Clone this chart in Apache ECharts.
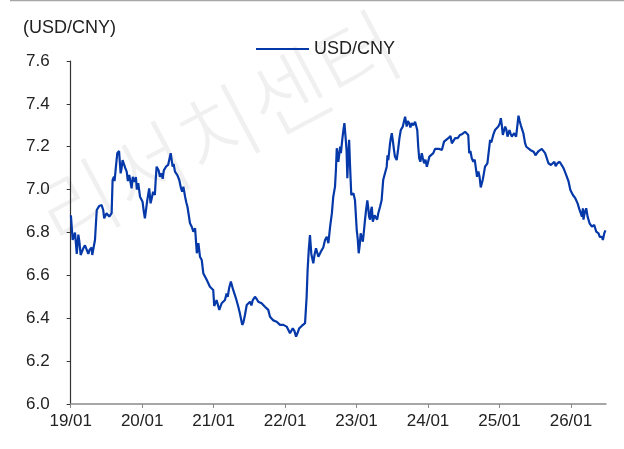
<!DOCTYPE html>
<html>
<head>
<meta charset="utf-8">
<script src="https://cdn.jsdelivr.net/npm/echarts@6/dist/echarts.min.js"></script>
<style>
html,body{margin:0;padding:0;background:#fff;}
#chart{width:624px;height:449px;}
</style>
</head>
<body>
<div id="chart"></div>
<script>
// ---- data ----
const unitLabel = '(USD/CNY)';
const seriesName = 'USD/CNY';
const watermark = '리서치센터';
const yTicks = [6.0, 6.2, 6.4, 6.6, 6.8, 7.0, 7.2, 7.4, 7.6];
const xTickYears = [2019, 2020, 2021, 2022, 2023, 2024, 2025, 2026];
const xTickLabels = ['19/01', '20/01', '21/01', '22/01', '23/01', '24/01', '25/01', '26/01'];
const xEnd = '2026-06-29';

const dates = [
'2019-01-02','2019-01-11','2019-01-23','2019-02-01','2019-02-09','2019-02-21','2019-03-06','2019-03-24','2019-04-01','2019-04-18',
'2019-04-21','2019-05-05','2019-05-14','2019-05-27','2019-06-08','2019-06-16','2019-06-21','2019-07-03','2019-07-17','2019-07-29',
'2019-08-03','2019-08-10','2019-08-20','2019-08-27','2019-09-05','2019-09-13','2019-09-23','2019-10-01','2019-10-14','2019-10-27',
'2019-11-08','2019-11-20','2019-11-30','2019-12-12','2019-12-21','2020-01-03','2020-01-15','2020-01-27','2020-02-06','2020-02-13',
'2020-02-26','2020-03-06','2020-03-15','2020-03-25','2020-04-01','2020-04-10','2020-04-21','2020-05-02','2020-05-13','2020-05-26',
'2020-06-05','2020-06-17','2020-06-29','2020-07-09','2020-07-18','2020-07-30','2020-08-08','2020-08-20','2020-09-02','2020-09-11',
'2020-09-19','2020-09-28','2020-10-07','2020-10-15','2020-10-23','2020-11-01','2020-11-09','2020-11-27','2020-12-13','2020-12-30',
'2021-01-04','2021-01-16','2021-01-30','2021-02-11','2021-02-28','2021-03-08','2021-03-21','2021-03-30','2021-04-11','2021-04-25',
'2021-05-07','2021-05-15','2021-05-27','2021-06-10','2021-06-19','2021-07-06','2021-07-20','2021-07-31','2021-08-17','2021-09-03',
'2021-09-20','2021-10-07','2021-10-16','2021-11-02','2021-11-19','2021-12-06','2021-12-23','2022-01-09','2022-01-26','2022-02-09',
'2022-02-26','2022-03-14','2022-03-27','2022-04-13','2022-04-21','2022-04-26','2022-05-08','2022-05-25','2022-06-08','2022-06-20',
'2022-07-07','2022-07-24','2022-08-10','2022-08-19','2022-08-28','2022-09-04','2022-09-13','2022-09-22','2022-09-30','2022-10-09',
'2022-10-18','2022-10-26','2022-10-31','2022-11-07','2022-11-15','2022-11-24','2022-11-29','2022-12-05','2022-12-16','2022-12-24',
'2023-01-02','2023-01-12','2023-01-22','2023-02-02','2023-02-13','2023-02-25','2023-03-06','2023-03-16','2023-03-25','2023-04-10',
'2023-04-22','2023-05-01','2023-05-09','2023-05-17','2023-06-04','2023-06-12','2023-06-21','2023-06-30','2023-07-07','2023-07-16',
'2023-07-25','2023-08-02','2023-08-15','2023-08-25','2023-09-06','2023-09-14','2023-09-27','2023-10-10','2023-10-27','2023-11-07',
'2023-11-17','2023-11-30','2023-12-12','2023-12-26','2024-01-08','2024-01-28','2024-02-15','2024-03-12','2024-03-23','2024-04-14',
'2024-05-02','2024-05-19','2024-06-13','2024-07-09','2024-07-25','2024-07-30','2024-08-12','2024-08-20','2024-09-02','2024-09-15',
'2024-09-27','2024-10-07','2024-10-19','2024-10-31','2024-11-08','2024-11-14','2024-11-30','2024-12-09','2024-12-26','2025-01-08',
'2025-01-18','2025-01-30','2025-02-11','2025-02-21','2025-03-05','2025-03-17','2025-03-27','2025-04-08','2025-04-20','2025-05-03',
'2025-05-12','2025-05-24','2025-06-07','2025-06-24','2025-07-11','2025-07-28','2025-08-14','2025-08-28','2025-09-08','2025-09-21',
'2025-10-08','2025-10-24','2025-11-11','2025-11-24','2025-12-08','2025-12-20','2025-12-29','2026-01-11','2026-01-23','2026-02-04',
'2026-02-14','2026-02-26','2026-03-03','2026-03-10','2026-03-20','2026-03-27','2026-04-06','2026-04-18','2026-04-30','2026-05-10',
'2026-05-22','2026-06-03','2026-06-13','2026-06-20','2026-06-26'
];

const usdcny = [
6.88,6.765,6.80,6.70,6.79,6.695,6.726,6.734,6.70,6.73,
6.695,6.765,6.905,6.924,6.928,6.905,6.866,6.89,6.874,6.89,
7.045,7.06,7.107,7.17,7.18,7.076,7.138,7.146,7.084,7.068,
7.006,7.037,7.058,7.03,6.967,6.944,6.866,6.95,7.006,6.936,
6.99,6.975,7.107,7.09,7.06,7.076,7.09,7.107,7.115,7.17,
7.107,7.084,7.068,7.045,7.006,7.014,6.967,6.92,6.843,6.827,
6.804,6.82,6.703,6.75,6.687,6.672,6.61,6.578,6.547,6.532,
6.457,6.485,6.439,6.47,6.485,6.516,6.54,6.571,6.532,6.493,
6.454,6.423,6.369,6.415,6.462,6.477,6.485,6.50,6.477,6.47,
6.454,6.439,6.407,6.39,6.384,6.369,6.369,6.361,6.33,6.353,
6.314,6.353,6.364,6.377,6.50,6.625,6.788,6.656,6.726,6.687,
6.718,6.765,6.75,6.827,6.89,6.967,7.014,7.193,7.13,7.20,
7.216,7.278,7.31,7.232,7.053,7.232,7.107,6.975,6.983,6.95,
6.81,6.703,6.796,6.757,6.858,6.95,6.874,6.905,6.85,6.874,
6.89,6.92,6.95,7.045,7.107,7.138,7.216,7.263,7.216,7.154,
7.138,7.193,7.278,7.294,7.34,7.294,7.31,7.31,7.317,7.278,
7.146,7.17,7.123,7.107,7.154,7.17,7.193,7.185,7.224,7.24,
7.216,7.24,7.255,7.27,7.255,7.17,7.146,7.13,7.10,7.084,
7.01,7.045,7.107,7.123,7.115,7.232,7.255,7.278,7.294,7.333,
7.255,7.294,7.247,7.278,7.247,7.263,7.247,7.345,7.30,7.263,
7.216,7.193,7.185,7.177,7.17,7.185,7.185,7.154,7.123,7.115,
7.13,7.123,7.123,7.10,7.068,7.037,6.998,6.975,6.96,6.936,
6.905,6.874,6.913,6.882,6.913,6.874,6.843,6.827,6.835,6.804,
6.796,6.773,6.765,6.796,6.81
];

// extra in-between readings of the noisy daily line
const datesExtra = [
'2019-02-14','2019-03-01','2019-03-15','2019-04-08','2019-04-28','2019-08-13','2019-09-18','2019-10-07','2019-10-20','2019-11-14',
'2019-12-05','2020-01-09','2020-02-19','2020-03-10','2020-04-15','2020-05-20','2020-06-10','2020-07-24','2020-08-14','2021-02-05',
'2021-03-14','2021-06-02','2021-07-13','2021-08-09','2021-09-12','2021-10-25','2022-01-18','2022-02-18','2022-03-05','2022-05-02',
'2022-05-15','2022-06-01','2022-06-14','2022-06-29','2022-07-15','2022-08-02','2022-09-18','2022-10-13','2022-10-22','2022-11-11',
'2022-11-19','2023-01-07','2023-01-17','2023-02-07','2023-02-18','2023-03-01','2023-03-11','2023-03-20','2023-04-03','2023-04-16',
'2023-06-08','2023-06-25','2023-07-12','2023-07-20','2023-08-08','2023-09-01','2023-09-20','2023-10-03','2023-10-18','2023-11-12',
'2023-11-23','2023-12-05','2023-12-19','2024-01-18','2024-02-06','2024-02-28','2024-04-25','2024-06-01','2024-06-25','2024-08-05',
'2024-08-27','2024-09-08','2024-09-21','2024-10-12','2024-10-25','2024-11-20','2024-12-17','2025-01-03','2025-01-13','2025-01-24',
'2025-02-05','2025-02-16','2025-02-27','2025-03-11','2025-03-22','2025-04-03','2025-04-14','2025-04-27','2025-05-18','2025-06-15',
'2025-07-05','2025-07-20','2025-08-05','2025-08-22','2025-09-15','2025-10-15','2025-11-04','2025-11-18','2026-02-20','2026-03-06',
'2026-03-15','2026-04-12','2026-04-24','2026-05-16','2026-05-28','2026-06-08'
];
const usdcnyExtra = [
6.76,6.70,6.74,6.72,6.73,7.04,7.10,7.10,7.04,7.06,
7.00,6.90,6.96,7.04,7.05,7.12,7.12,6.99,6.94,6.44,
6.50,6.38,6.46,6.49,6.47,6.40,6.37,6.34,6.33,6.72,
6.70,6.70,6.73,6.68,6.73,6.78,7.10,7.17,7.25,7.18,
7.15,6.77,6.74,6.80,6.90,6.92,6.86,6.92,6.88,6.86,
7.16,7.24,7.18,7.15,7.24,7.30,7.32,7.29,7.30,7.20,
7.13,7.15,7.14,7.15,7.19,7.19,7.25,7.24,7.26,7.18,
7.14,7.06,7.06,7.07,7.10,7.22,7.27,7.31,7.30,7.26,
7.28,7.25,7.26,7.24,7.27,7.25,7.32,7.28,7.20,7.18,
7.16,7.18,7.19,7.17,7.13,7.11,7.13,7.11,6.89,6.86,
6.90,6.85,6.82,6.81,6.78,6.78
];

// ---- helpers ----
function toYear(s) {
  const p = s.split('-').map(Number);
  const y = p[0];
  const t0 = Date.UTC(y, 0, 1), t1 = Date.UTC(y + 1, 0, 1);
  return y + (Date.UTC(y, p[1] - 1, p[2]) - t0) / (t1 - t0);
}
const seriesData = dates.map((d, i) => [toYear(d), usdcny[i]])
  .concat(datesExtra.map((d, i) => [toYear(d), usdcnyExtra[i]]))
  .sort((a, b) => a[0] - b[0]);
const labelMap = {};
xTickYears.forEach((y, i) => { labelMap[y] = xTickLabels[i]; });

const font = "'Liberation Sans', Arial, sans-serif";
const lineColor = '#0538a8';
const chart = echarts.init(document.getElementById('chart'), null, { renderer: 'canvas' });
chart.setOption({
  backgroundColor: '#ffffff',
  animation: false,
  graphic: [
    { type: 'line', z: 0, shape: { x1: 10, y1: 0.5, x2: 624, y2: 0.5 }, style: { stroke: '#a6a6a6', lineWidth: 1.5 } },
    { type: 'text', z: 0, x: 218, y: 130, rotation: 28 * Math.PI / 180,
      style: { text: watermark, font: "300 86px 'Noto Sans CJK KR'", fill: '#f0f0f0', align: 'center', verticalAlign: 'middle' } },
    { type: 'text', z: 5, left: 23, top: 19,
      style: { text: unitLabel, font: "18px " + font, fill: '#222' } }
  ],
  legend: {
    data: [{ name: seriesName, icon: 'rect' }],
    left: 251, top: 35,
    itemWidth: 53, itemHeight: 2,
    textStyle: { fontFamily: font, fontSize: 18, color: '#222' }
  },
  grid: { left: 70.7, right: 18, top: 61, bottom: 45, containLabel: false },
  xAxis: {
    type: 'value',
    min: xTickYears[0], max: toYear(xEnd), interval: 1,
    axisLine: { lineStyle: { color: '#8a8a8a', width: 1.5 } },
    axisTick: { show: true, length: 4, inside: false, customValues: xTickYears, lineStyle: { color: '#8a8a8a' } },
    axisLabel: { customValues: xTickYears, formatter: v => labelMap[Math.round(v)] || '', fontFamily: font, fontSize: 17, color: '#222', margin: 9 },
    splitLine: { show: false }
  },
  yAxis: {
    type: 'value',
    min: yTicks[0], max: yTicks[yTicks.length - 1], interval: 0.2,
    axisLine: { show: true, lineStyle: { color: '#333', width: 1.2 } },
    axisTick: { show: true, length: 4, inside: false, lineStyle: { color: '#333' } },
    axisLabel: { formatter: v => v.toFixed(1), fontFamily: font, fontSize: 17, color: '#222', margin: 21 },
    splitLine: { show: false }
  },
  series: [{
    name: seriesName,
    type: 'line',
    data: seriesData,
    showSymbol: false,
    symbol: 'none',
    z: 3,
    lineStyle: { color: lineColor, width: 2.2 },
    itemStyle: { color: lineColor }
  }]
});
</script>
</body>
</html>
